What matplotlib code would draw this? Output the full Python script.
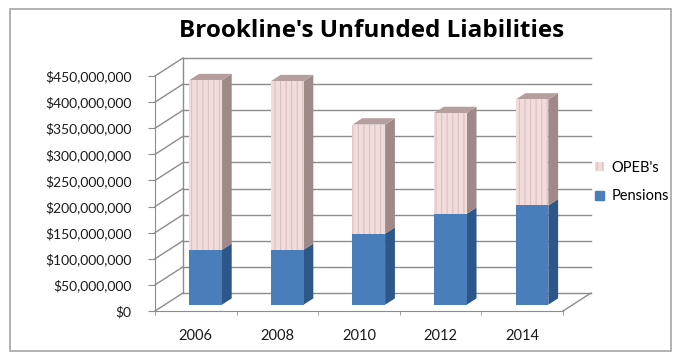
import matplotlib.pyplot as plt
from matplotlib.patches import Polygon, Patch, Rectangle
from matplotlib.ticker import FuncFormatter

plt.rcParams['font.family'] = ['Lato', 'DejaVu Sans']

# data
years = ['2006', '2008', '2010', '2012', '2014']
pensions = [105e6, 105e6, 136e6, 174e6, 190e6]
opebs = [325e6, 323e6, 209e6, 193e6, 203e6]
y_ticks = [0, 50e6, 100e6, 150e6, 200e6, 250e6, 300e6, 350e6, 400e6, 450e6]

grid_col = '#8c8c8c'
DX = 0.343      # depth offset along x (category units)
DY = 34.5e6     # depth offset along y (dollars)
front = 0.35    # depth where bar front sits
depth = 0.35    # bar depth
w = 0.40

fig = plt.figure(figsize=(6.77, 3.53), dpi=100)
ax = fig.add_axes([155/677, (353-311)/353, 408/677, 235/353])
ax.set_xlim(-0.5, 4.5)
ax.set_ylim(0, 450e6)

# back wall + floor
for v in y_ticks:
    ax.plot([-0.5 + DX, 4.5 + DX], [v + DY, v + DY], color=grid_col, lw=1, clip_on=False, zorder=1)
    ax.plot([-0.5, -0.5 + DX], [v, v + DY], color=grid_col, lw=1, clip_on=False, zorder=1)
ax.plot([-0.5 + DX, -0.5 + DX], [DY, 450e6 + DY], color=grid_col, lw=1, clip_on=False, zorder=1)
ax.plot([4.5, 4.5 + DX], [0, DY], color=grid_col, lw=1, clip_on=False, zorder=1)

x = list(range(len(years)))
fx = [i + front * DX for i in x]


def draw_segment(bottoms, heights, fcol, scol, tcol, hatch, hcol, top):
    ax.bar(fx, heights, width=w, bottom=[b + front * DY for b in bottoms],
           color=fcol, edgecolor=hcol, linewidth=0, hatch=hatch, zorder=3, clip_on=False)
    for xi, b, h in zip(fx, bottoms, heights):
        xr = xi + w / 2
        xl = xi - w / 2
        b0 = b + front * DY
        t0 = b0 + h
        side = Polygon([(xr, b0), (xr + depth * DX, b0 + depth * DY),
                        (xr + depth * DX, t0 + depth * DY), (xr, t0)],
                       closed=True, facecolor=scol, edgecolor='none', zorder=2.5, clip_on=False)
        ax.add_patch(side)
        if top:
            tp = Polygon([(xl, t0), (xr, t0), (xr + depth * DX, t0 + depth * DY),
                          (xl + depth * DX, t0 + depth * DY)],
                         closed=True, facecolor=tcol, edgecolor='none', zorder=2.5, clip_on=False)
            ax.add_patch(tp)


plt.rcParams['hatch.linewidth'] = 0.8
draw_segment([0] * 5, pensions, '#4a7ebb', '#2d5689', None, None, '#4a7ebb', False)
draw_segment(pensions, opebs, '#f2dcdb', '#9f8989', '#b69e9e', '|||', '#dcc0c0', True)

# axes styling
for s in ['top', 'right']:
    ax.spines[s].set_visible(False)
for s in ['left', 'bottom']:
    ax.spines[s].set_color(grid_col)
ax.set_yticks(y_ticks)
ax.yaxis.set_major_formatter(FuncFormatter(lambda v, p: '$0' if v == 0 else '${:,.0f}'.format(v)))
ax.tick_params(axis='y', length=5, color=grid_col, labelsize=10, labelcolor='#1a1a1a', pad=12)
ax.set_xticks(x)
ax.set_xticklabels(years)
ax.set_xticks([i - 0.5 for i in range(6)], minor=True)
ax.tick_params(axis='x', which='major', length=0, labelsize=10.5, labelcolor='#1a1a1a', pad=13)
ax.tick_params(axis='x', which='minor', length=3, color=grid_col)
ax.set_facecolor('none')

fig.text(372/677, 1 - 31/353, "Brookline's Unfunded Liabilities", ha='center', va='center',
         fontsize=17.5, fontweight='bold', color='#000000', family=['Open Sans', 'DejaVu Sans'])

handles = [Patch(facecolor='#f2dcdb', edgecolor='#dcc0c0', hatch='|||', linewidth=0),
           Patch(facecolor='#4a7ebb', edgecolor='#4a7ebb')]
fig.legend(handles, ["OPEB's", 'Pensions'], loc='center left',
           bbox_to_anchor=(582/677, 1 - 182/353), frameon=False, fontsize=10.5,
           handlelength=0.6, handleheight=0.6, handletextpad=0.5, labelspacing=1.0)

fig.patches.append(Rectangle((10/677, 1 - 351/353), 661/677, 342/353, transform=fig.transFigure,
                             fill=False, edgecolor='#a6a6a6', linewidth=1.2))

plt.savefig('out.png', dpi=100)
